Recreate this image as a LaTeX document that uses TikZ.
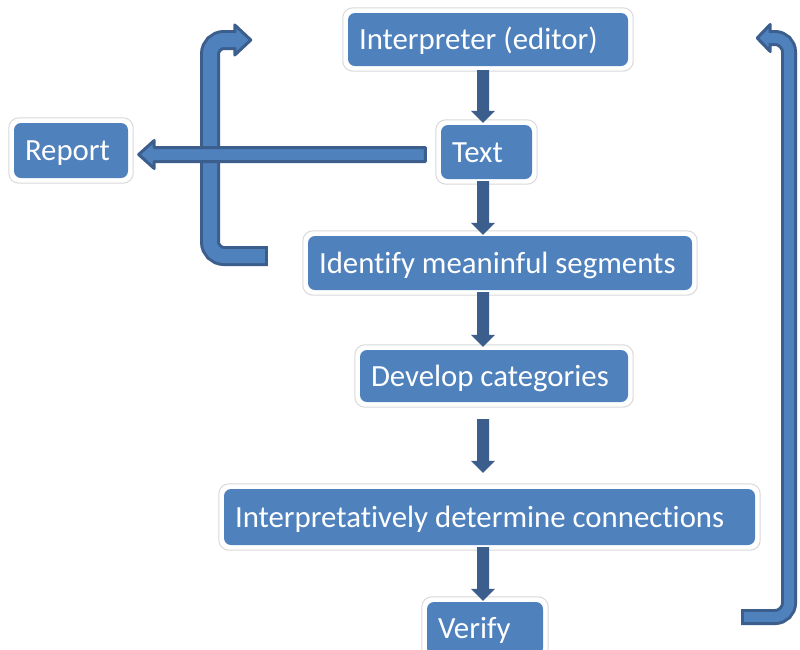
\documentclass[tikz,border=0pt]{standalone}
\usepackage{fontspec}
\setmainfont{Carlito}[Ligatures={NoCommon}]
\usetikzlibrary{calc}
\definecolor{boxblue}{HTML}{4F81BD}
\definecolor{arrdark}{HTML}{3B5E8C}
\definecolor{halogray}{HTML}{DADADA}
\newcommand\blockdown[2]{%
  \fill[arrdark] let \p1=(#1), \p2=(#2) in
    ({\x1-6pt},\y1) -- ({\x1+6pt},\y1) -- ({\x1+6pt},{\y2+12pt}) --
    ({\x1+12pt},{\y2+12pt}) -- (\x1,\y2) -- ({\x1-12pt},{\y2+12pt}) --
    ({\x1-6pt},{\y2+12pt}) -- cycle;}
\newcommand\lbox[2]{\makebox[#1][l]{#2}}
\begin{document}
\begin{tikzpicture}[x=1pt,y=-1pt,
  box/.style={rectangle, rounded corners=7pt, fill=boxblue, text=white,
    font=\fontsize{30.8}{36}\selectfont, inner xsep=11pt, inner ysep=0pt,
    text height=20pt, text depth=0pt},
  halo/.style={draw=halogray, line width=1pt, rounded corners=10pt},
  outerband/.style={draw=arrdark, line width=#1, rounded corners=14pt},
  innerband/.style={draw=boxblue, line width=#1, rounded corners=14pt, shorten <=3pt},
  headshape/.style={fill=boxblue, draw=arrdark, line width=3pt, line join=round}]
\fill[white] (0,0) rectangle (800,649);
\useasboundingbox (0,0) rectangle (800,649);

% boxes
\node[box, minimum width=280pt, minimum height=53pt] (interp) at (488,39.5) {\lbox{258pt}{Interpreter (editor)}};
\node[box, minimum width=91pt, minimum height=54pt] (txt) at (486.5,152) {\lbox{69pt}{Text}};
\node[box, minimum width=114pt, minimum height=55pt] (report) at (71,150.5) {\lbox{92pt}{Report}};
\node[box, minimum width=384pt, minimum height=54pt] (ident) at (500,263) {\lbox{362pt}{Identify meaninful segments}};
\node[box, minimum width=268pt, minimum height=52pt] (develop) at (494,376) {\lbox{246pt}{Develop categories}};
\node[box, minimum width=531pt, minimum height=56pt] (conn) at (489.5,517) {\lbox{509pt}{Interpretatively determine connections}};
\node[box, minimum width=116pt, minimum height=53pt] (verify) at (485,628.5) {\lbox{94pt}{Verify}};

\foreach \n in {interp,txt,report,ident,develop,conn,verify}
  \draw[halo] ($(\n.south west)+(-5,5)$) rectangle ($(\n.north east)+(5,-5)$);

% left bent arrow
\coordinate (Ls) at ($(ident.west)+(-40,-7)$);
\coordinate (Lx) at (210,0);
\coordinate (Lt) at ($(interp.west)+(-95,0.5)$);
\coordinate (Lb) at ($(Lt)+(-19,0)$);
\draw[outerband=20pt] (Ls) -- (Lx |- Ls) -- (Lx |- Lt) -- (Lb);
\draw[headshape] ($(Lb)+(1,-15)$) -- ($(Lt)+(-2,0)$) -- ($(Lb)+(1,15)$) -- cycle;
\draw[innerband=14pt] (Ls) -- (Lx |- Ls) -- (Lx |- Lt) -- ($(Lb)+(5,0)$);

% right bent arrow
\coordinate (Rs) at ($(conn.east)+(-14,100)$);
\coordinate (Rx) at (789,0);
\coordinate (Rt) at ($(interp.east)+(127,-1.5)$);
\coordinate (Rb) at ($(Rt)+(16,0)$);
\draw[outerband=16pt] (Rs) -- (Rx |- Rs) -- (Rx |- Rt) -- (Rb);
\draw[headshape] ($(Rb)+(-1,-13.5)$) -- ($(Rt)+(2,0)$) -- ($(Rb)+(-1,13.5)$) -- cycle;
\draw[innerband=10pt] (Rs) -- (Rx |- Rs) -- (Rx |- Rt) -- ($(Rb)+(-5,0)$);

% down arrows
\coordinate (ax) at (483,0);
\blockdown{$(ax |- interp.south)+(0,4)$}{$(ax |- txt.north)+(0,-2)$}
\blockdown{$(ax |- txt.south)+(0,2)$}{$(ax |- ident.north)+(0,-1)$}
\blockdown{$(ax |- ident.south)+(0,2)$}{$(ax |- develop.north)+(0,-3)$}
\blockdown{$(ax |- develop.south)+(0,17)$}{$(ax |- conn.north)+(0,-16)$}
\blockdown{$(ax |- conn.south)+(0,2)$}{$(ax |- verify.north)+(0,-1)$}

% report arrow
\coordinate (rs) at ($(txt.west)+(-14,2.5)$);
\coordinate (rt) at ($(report.east |- rs)+(8,0)$);
\draw[headshape] ($(rs)+(-1.5,-7)$) -- ($(rt)+(18,-7)$) -- ($(rt)+(18,-14)$) --
  ($(rt)+(2.5,0)$) -- ($(rt)+(18,14)$) -- ($(rt)+(18,7)$) -- ($(rs)+(-1.5,7)$) -- cycle;
\end{tikzpicture}
\end{document}
